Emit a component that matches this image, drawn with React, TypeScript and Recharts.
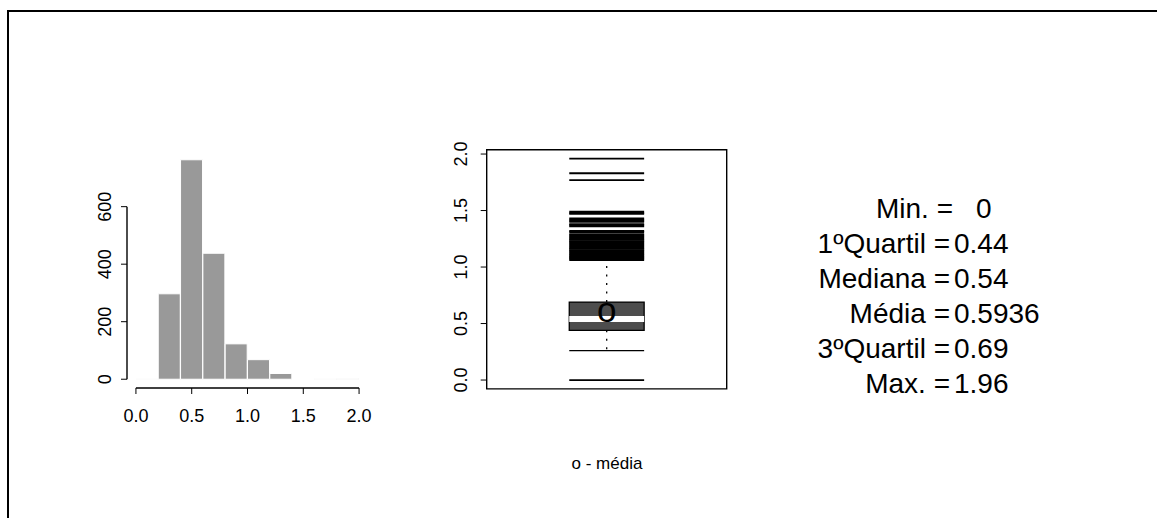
import { Bar, ComposedChart, ReferenceArea, ReferenceLine, Scatter, XAxis, YAxis } from "recharts";

// histogram bins (midpoints) and counts
const binMids = [0.1, 0.3, 0.5, 0.7, 0.9, 1.1, 1.3, 1.5, 1.7, 1.9];
const binCounts = [1, 297, 763, 438, 123, 68, 20, 0, 1, 2];
const histXTicks = [0, 0.5, 1, 1.5, 2];
const histYTicks = [0, 200, 400, 600];

// boxplot
const boxYTicks = [0, 0.5, 1, 1.5, 2];
const whiskers = [0.26, 1.06];
const outliers = [
  0, 1.07, 1.08, 1.09, 1.1, 1.11, 1.12, 1.13, 1.14, 1.15, 1.16, 1.17, 1.18, 1.19, 1.2, 1.21,
  1.22, 1.23, 1.24, 1.25, 1.26, 1.27, 1.28, 1.29, 1.31, 1.32, 1.36, 1.37, 1.38, 1.4, 1.41,
  1.42, 1.43, 1.47, 1.48, 1.49, 1.77, 1.83, 1.96,
];

// summary
const statNames = ["Min.", "1ºQuartil", "Mediana", "Média", "3ºQuartil", "Max."];
const statValues = [0, 0.44, 0.54, 0.5936, 0.69, 1.96];
const statText = ["0", "0.44", "0.54", "0.5936", "0.69", "1.96"];

const FONT = "'Liberation Sans', Arial, Helvetica, sans-serif";

const histData = binMids.map((x, i) => ({ x, n: binCounts[i] }));
const nMax = Math.max(...binCounts);
const hxDom: [number, number] = [-0.08, 2.08];
const hyDom: [number, number] = [-0.04 * nMax, 1.04 * nMax];

const [sMin, q1, med, mean, q3, sMax] = statValues;
const byDom: [number, number] = [sMin - 0.04 * (sMax - sMin), sMax + 0.04 * (sMax - sMin)];
const boxL = 0.344;
const boxR = 0.656;
const mid = 0.5;

function XTick({ x, y, payload }: any) {
  return (
    <text x={x} y={y} dy="0.35em" textAnchor="middle" fontSize={18} fontFamily={FONT} fill="#000">
      {Number(payload.value).toFixed(1)}
    </text>
  );
}

function RotTick({ x, y, payload, digits }: any) {
  const v = Number(payload.value);
  return (
    <text
      x={x}
      y={y}
      dy="0.35em"
      transform={`rotate(-90 ${x} ${y})`}
      textAnchor="middle"
      fontSize={18}
      fontFamily={FONT}
      fill="#000"
    >
      {digits ? v.toFixed(digits) : String(v)}
    </text>
  );
}

function MeanMark({ cx, cy }: any) {
  return (
    <text x={cx} y={cy} dy="0.27em" textAnchor="middle" fontSize={35} fontFamily={FONT} fill="#000">
      o
    </text>
  );
}

export default function App() {
  return (
    <div style={{ position: "absolute", left: 0, top: 0, width: 1159, height: 520, background: "#fff", overflow: "hidden" }}>
      <div
        style={{
          position: "absolute",
          left: 7,
          top: 10,
          width: 1150,
          height: 508,
          borderLeft: "2px solid #000",
          borderTop: "2px solid #000",
          boxSizing: "border-box",
        }}
      />

      <div style={{ position: "absolute", left: 0, top: 0 }}>
        <ComposedChart
          width={400}
          height={460}
          data={histData}
          margin={{ top: 151, right: 32, left: 87, bottom: 32 }}
          barCategoryGap={0}
          barGap={0}
        >
          <XAxis
            dataKey="x"
            type="number"
            domain={hxDom}
            ticks={histXTicks}
            allowDataOverflow
            axisLine={false}
            tickSize={6}
            tickMargin={22}
            stroke="#000"
            height={40}
            tick={<XTick />}
          />
          <YAxis
            type="number"
            domain={hyDom}
            ticks={histYTicks}
            allowDataOverflow
            axisLine={false}
            tickSize={6}
            tickMargin={16}
            stroke="#000"
            width={40}
            tick={<RotTick />}
          />
          <Bar dataKey="n" fill="#999999" stroke="#ffffff" strokeWidth={1} isAnimationActive={false} />
          <ReferenceLine
            segment={[{ x: histXTicks[0], y: hyDom[0] }, { x: histXTicks[histXTicks.length - 1], y: hyDom[0] }]}
            stroke="#000"
            strokeWidth={1.4}
            ifOverflow="visible"
          />
          <ReferenceLine
            segment={[{ x: hxDom[0], y: histYTicks[0] }, { x: hxDom[0], y: histYTicks[histYTicks.length - 1] }]}
            stroke="#000"
            strokeWidth={1.4}
            ifOverflow="visible"
          />
        </ComposedChart>
      </div>

      <div style={{ position: "absolute", left: 400, top: 0 }}>
        <ComposedChart width={380} height={480} margin={{ top: 149.7, right: 53.3, left: 46.7, bottom: 91.1 }}>
          <XAxis dataKey="x" type="number" domain={[0, 1]} hide allowDataOverflow />
          <YAxis
            type="number"
            domain={byDom}
            ticks={boxYTicks}
            allowDataOverflow
            axisLine={false}
            tickSize={6}
            tickMargin={20}
            stroke="#000"
            width={40}
            tick={<RotTick digits={1} />}
          />
          <ReferenceArea x1={0} x2={1} y1={byDom[0]} y2={byDom[1]} fill="none" stroke="#000" strokeWidth={1.4} ifOverflow="visible" />
          <ReferenceLine segment={[{ x: mid, y: q3 }, { x: mid, y: whiskers[1] }]} stroke="#000" strokeWidth={1.3} strokeDasharray="2 6.5" />
          <ReferenceLine segment={[{ x: mid, y: q1 }, { x: mid, y: whiskers[0] }]} stroke="#000" strokeWidth={1.3} strokeDasharray="2 6.5" />
          {whiskers.map((w) => (
            <ReferenceLine key={"w" + w} segment={[{ x: boxL, y: w }, { x: boxR, y: w }]} stroke="#000" strokeWidth={1.4} />
          ))}
          {outliers.map((v) => (
            <ReferenceLine key={"o" + v} segment={[{ x: boxL, y: v }, { x: boxR, y: v }]} stroke="#000" strokeWidth={1.8} />
          ))}
          <ReferenceArea x1={boxL} x2={boxR} y1={q1} y2={q3} fill="#4d4d4d" fillOpacity={1} stroke="#000" strokeWidth={1.3} />
          <ReferenceLine segment={[{ x: boxL, y: med }, { x: boxR, y: med }]} stroke="#fff" strokeWidth={6} />
          <Scatter data={[{ x: mid, y: mean }]} dataKey="y" shape={<MeanMark />} isAnimationActive={false} />
        </ComposedChart>
      </div>

      <svg width={1159} height={520} style={{ position: "absolute", left: 0, top: 0, pointerEvents: "none" }}>
        <text x={607} y={463} dy="0.35em" textAnchor="middle" fontSize={17} fontFamily={FONT} fill="#000">
          o - média
        </text>
        {statNames.map((name, i) => (
          <g key={name} fontSize={28} fontFamily={FONT} fill="#000">
            <text x={i === 0 ? 953 : 950} y={208 + i * 35} dy="0.35em" textAnchor="end">
              {name} =
            </text>
            <text x={i === 0 ? 976 : 954} y={208 + i * 35} dy="0.35em" textAnchor="start">
              {statText[i]}
            </text>
          </g>
        ))}
      </svg>
    </div>
  );
}
